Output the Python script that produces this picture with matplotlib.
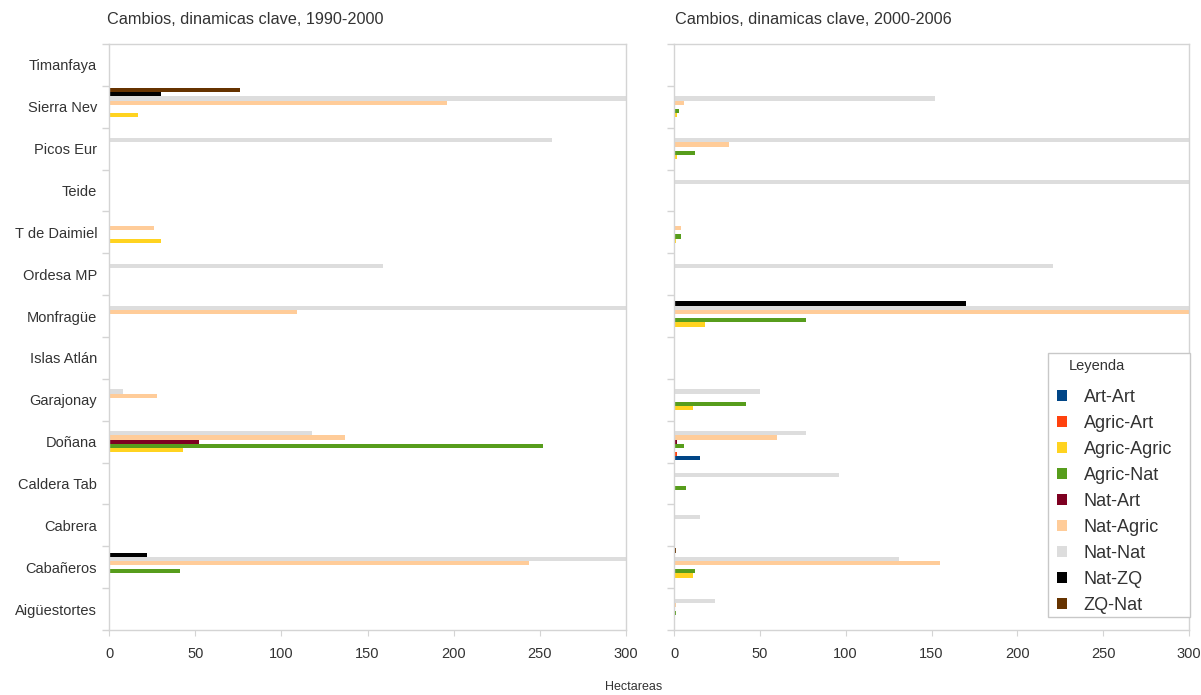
import numpy as np
import matplotlib
matplotlib.use("Agg")
import matplotlib.pyplot as plt
from matplotlib.patches import Rectangle
from matplotlib.ticker import FixedLocator, MultipleLocator

plt.rcParams["font.family"] = ["Liberation Sans", "DejaVu Sans"]

# categories, top to bottom
parks = ["Timanfaya", "Sierra Nev", "Picos Eur", "Teide", "T de Daimiel",
         "Ordesa MP", "Monfragüe", "Islas Atlán", "Garajonay", "Doñana",
         "Caldera Tab", "Cabrera", "Cabañeros", "Aigüestortes"]
series = ["Art-Art", "Agric-Art", "Agric-Agric", "Agric-Nat", "Nat-Art",
          "Nat-Agric", "Nat-Nat", "Nat-ZQ", "ZQ-Nat"]
colors = ["#004586", "#ff420e", "#ffd320", "#579d1c", "#7e0021",
          "#ffcc99", "#dddddd", "#000000", "#663300"]

# 1990-2000 (hectareas); values past 300 run off the axis
art_art_90 = [0, 0, 0, 0, 0, 0, 0, 0, 0, 0, 0, 0, 0, 0]
agric_art_90 = [0, 0, 0, 0, 0, 0, 0, 0, 0, 0, 0, 0, 0, 0]
agric_agric_90 = [0, 17, 0, 0, 30, 0, 0, 0, 0, 43, 0, 0, 0, 0]
agric_nat_90 = [0, 0, 0, 0, 0, 0, 0, 0, 0, 252, 0, 0, 41, 0]
nat_art_90 = [0, 0, 0, 0, 0, 0, 0, 0, 0, 52, 0, 0, 0, 0]
nat_agric_90 = [0, 196, 0, 0, 26, 0, 109, 0, 28, 137, 0, 0, 244, 0]
nat_nat_90 = [0, 350, 257, 0, 0, 159, 350, 0, 8, 118, 0, 0, 350, 0]
nat_zq_90 = [0, 30, 0, 0, 0, 0, 0, 0, 0, 0, 0, 0, 22, 0]
zq_nat_90 = [0, 76, 0, 0, 0, 0, 0, 0, 0, 0, 0, 0, 0, 0]

# 2000-2006
art_art_00 = [0, 0, 0, 0, 0, 0, 0, 0, 0, 15, 0, 0, 0, 0]
agric_art_00 = [0, 0, 0, 0, 0, 0, 0, 0, 0, 1.7, 0, 0, 0, 0]
agric_agric_00 = [0, 1.5, 1.5, 0, 1, 0, 18, 0, 11, 0, 0, 0, 11, 0]
agric_nat_00 = [0, 3, 12, 0, 4, 0, 77, 0, 42, 6, 7, 0, 12, 1]
nat_art_00 = [0, 0, 0, 0, 0, 0, 0, 0, 0, 2, 0, 0, 0, 0]
nat_agric_00 = [0, 6, 32, 0, 4, 0, 350, 0, 0, 60, 0, 0, 155, 1]
nat_nat_00 = [0, 152, 350, 350, 0, 221, 350, 0, 50, 77, 96, 15, 131, 24]
nat_zq_00 = [0, 0, 0, 0, 0, 0, 170, 0, 0, 0, 0, 0, 0, 0]
zq_nat_00 = [0, 0, 0, 0, 0, 0, 0, 0, 0, 0, 0, 0, 1, 0]

data_90 = [art_art_90, agric_art_90, agric_agric_90, agric_nat_90, nat_art_90,
           nat_agric_90, nat_nat_90, nat_zq_90, zq_nat_90]
data_00 = [art_art_00, agric_art_00, agric_agric_00, agric_nat_00, nat_art_00,
           nat_agric_00, nat_nat_00, nat_zq_00, zq_nat_00]

txt = "#333333"
spine = "#d4d4d4"
n = len(parks)
y = np.arange(n)[::-1]
bh = 0.1
W, H = 1201, 695

fig = plt.figure(figsize=(12.01, 6.95), dpi=100)
ax1 = fig.add_axes([109/W, 65/H, 517/W, 586/H])
ax2 = fig.add_axes([674/W, 65/H, 515/W, 586/H])

for ax, data in [(ax1, data_90), (ax2, data_00)]:
    for j, (vals, c, name) in enumerate(zip(data, colors, series)):
        ax.barh(y + (j - 4) * bh, vals, height=bh, color=c, label=name,
                linewidth=0)
    ax.set_xlim(0, 300)
    ax.set_ylim(-0.5, n - 0.5)
    ax.xaxis.set_major_locator(MultipleLocator(50))
    ax.yaxis.set_major_locator(FixedLocator(y))
    ax.yaxis.set_minor_locator(FixedLocator(np.arange(n + 1) - 0.5))
    ax.tick_params(axis="y", which="major", length=0, pad=8.5,
                   labelsize=10.5, labelcolor=txt)
    ax.tick_params(axis="y", which="minor", length=5, color=spine, width=1)
    ax.tick_params(axis="x", length=4, color=spine, pad=8,
                   labelsize=10.5, labelcolor=txt)
    for s in ax.spines.values():
        s.set_color(spine)
        s.set_linewidth(1)

ax1.set_yticklabels(parks)
ax2.set_yticklabels([])

fig.text(107/W, 1 - 19/H, "Cambios, dinamicas clave, 1990-2000",
         fontsize=11.7, color=txt, va="center", ha="left")
fig.text(675/W, 1 - 19/H, "Cambios, dinamicas clave, 2000-2006",
         fontsize=11.7, color=txt, va="center", ha="left")
fig.text(634/W, 1 - 687/H, "Hectareas", fontsize=9, color=txt,
         va="center", ha="center")

# legend box, title and entries
fig.patches.append(Rectangle((1048/W, 1 - 617/H), 142/W, 264/H,
                             transform=fig.transFigure, facecolor="white",
                             edgecolor="#c8c8c8", linewidth=1, zorder=3))
fig.text(1069/W, 1 - 366/H, "Leyenda", fontsize=10.5, color=txt,
         va="center", ha="left", zorder=4)
handles, labels = ax2.get_legend_handles_labels()
leg = fig.legend(handles, labels, loc="upper left",
                 bbox_to_anchor=(1057/W, 1 - 389/H), fontsize=13,
                 frameon=False, handlelength=0.58, handleheight=0.58,
                 handletextpad=0.9, labelspacing=0.5, borderpad=0,
                 borderaxespad=0, labelcolor=txt)
leg.set_zorder(5)

fig.savefig("out.png", dpi=100)
